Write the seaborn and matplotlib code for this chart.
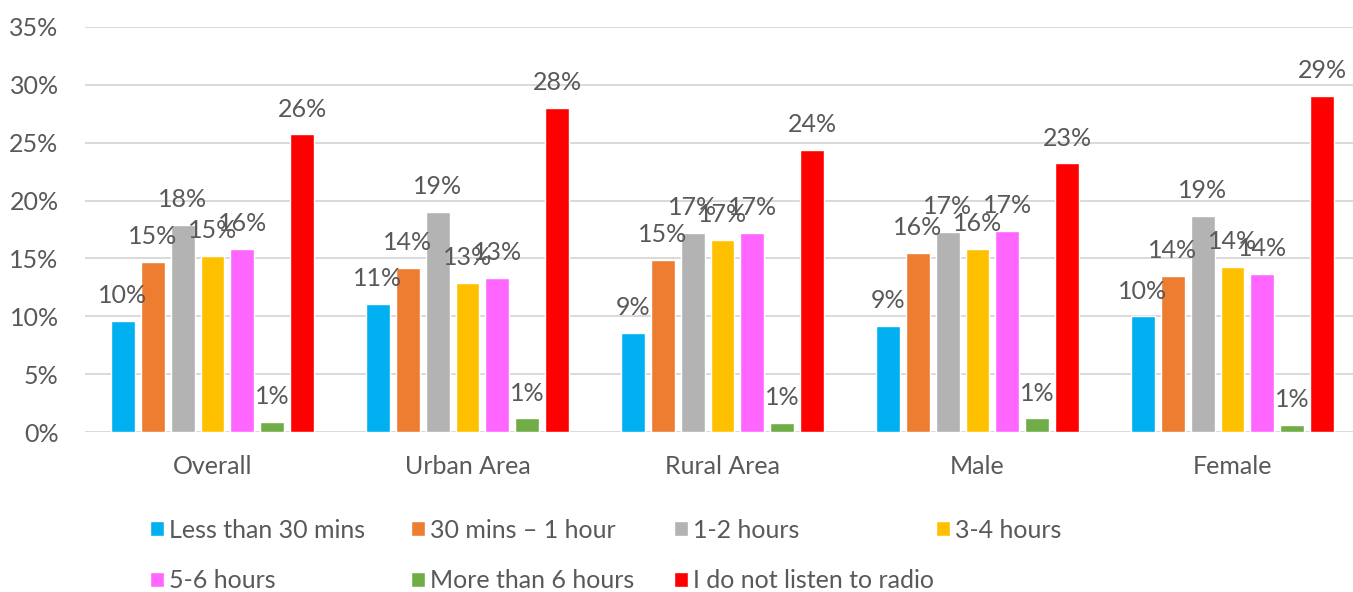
"""
radio_listening.py
Grouped bar chart: daily time spent listening to radio, by group.
"""

import pandas as pd
import matplotlib
matplotlib.use('Agg')
import matplotlib.pyplot as plt
import seaborn as sns

# ── Data (percent of respondents) ────────────────────────────────────────────
GROUPS = ['Overall', 'Urban Area', 'Rural Area', 'Male', 'Female']
SERIES = ['Less than 30 mins', '30 mins – 1 hour', '1-2 hours', '3-4 hours',
          '5-6 hours', 'More than 6 hours', 'I do not listen to radio']

less_30   = [9.6, 11.1, 8.6, 9.2, 10.0]
m30_1h    = [14.7, 14.2, 14.9, 15.5, 13.5]
h1_2      = [17.9, 19.0, 17.2, 17.3, 18.7]
h3_4      = [15.2, 12.9, 16.6, 15.8, 14.3]
h5_6      = [15.8, 13.3, 17.2, 17.4, 13.7]
more_6    = [0.9, 1.2, 0.8, 1.2, 0.6]
no_radio  = [25.7, 28.0, 24.4, 23.2, 29.0]

COLORS = ['#00B0F0', '#ED7D31', '#B3B3B3', '#FFC000',
          '#FF66FF', '#70AD47', '#FF0000']
TEXT_C = '#595959'
FONT   = ['Lato', 'DejaVu Sans']
FS     = 18

# ── Build long table ─────────────────────────────────────────────────────────
values = [less_30, m30_1h, h1_2, h3_4, h5_6, more_6, no_radio]
rows = []
for name, vals in zip(SERIES, values):
    for g, v in zip(GROUPS, vals):
        rows.append({'group': g, 'series': name, 'value': v})
df = pd.DataFrame(rows)

# ── Plot ─────────────────────────────────────────────────────────────────────
sns.set_style('white')
plt.rcParams['font.family'] = FONT

W, H = 1353, 592
fig = plt.figure(figsize=(W / 100, H / 100), dpi=100)
ax = fig.add_axes([85 / W, 1 - 432.3 / H, 1275 / W, (432.3 - 26.7) / H])

sns.barplot(data=df, x='group', y='value', hue='series', order=GROUPS,
            hue_order=SERIES, palette=COLORS, width=0.82, gap=0.2,
            saturation=1, ax=ax)

handles, labels = ax.get_legend_handles_labels()
ax.get_legend().remove()

for cont in ax.containers:
    ax.bar_label(cont, labels=[f'{v:.0f}%' for v in cont.datavalues],
                 padding=10, color=TEXT_C, fontsize=FS)

ax.set_xlim(-0.5, 4.5)
ax.set_ylim(0, 35)
ax.set_yticks(range(0, 36, 5))
ax.set_yticklabels([f'{t}%' for t in range(0, 36, 5)])
ax.yaxis.grid(True, color='#D9D9D9', linewidth=1.4)
ax.set_axisbelow(True)
ax.set_xlabel('')
ax.set_ylabel('')
ax.tick_params(axis='y', length=0, pad=19, labelsize=FS, labelcolor=TEXT_C)
ax.tick_params(axis='x', length=0, pad=16, labelsize=FS, labelcolor=TEXT_C)
sns.despine(ax=ax, left=True, bottom=True)

# ── Legend: one entry per slot, Excel-like fixed grid ────────────────────────
slots = [(150, 530), (411, 530), (674, 530), (936, 530),
         (150, 581), (411, 581), (674, 581)]
for h, l, (x, y) in zip(handles, labels, slots):
    fig.legend([h], [l], loc='center left', bbox_to_anchor=(x / W, 1 - y / H),
               frameon=False, borderpad=0, borderaxespad=0,
               handlelength=0.55, handleheight=0.55, handletextpad=0.2,
               prop={'family': FONT, 'size': FS}, labelcolor=TEXT_C)

fig.savefig('out.png', dpi=100)
